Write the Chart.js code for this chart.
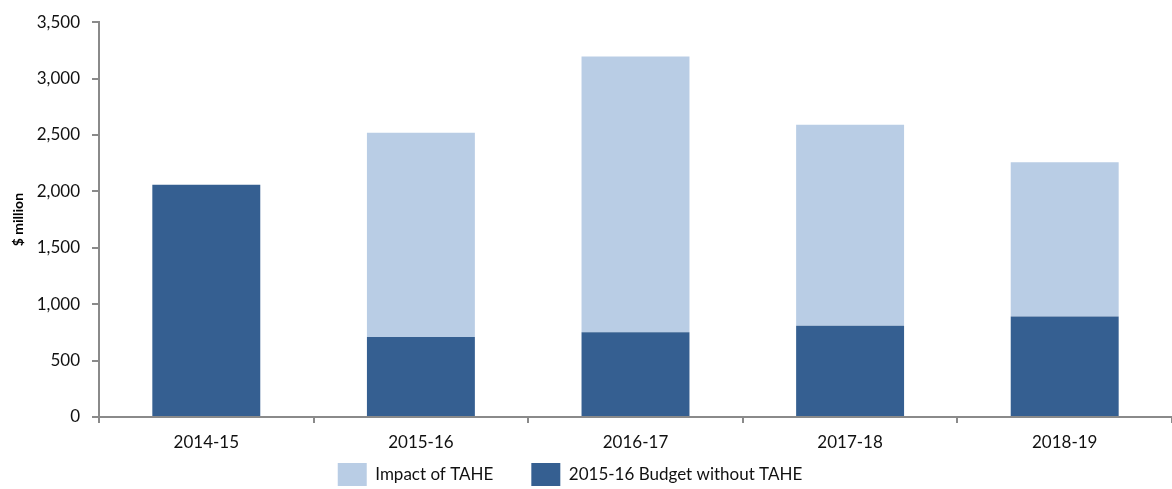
<!DOCTYPE html>
<html>
<head>
<meta charset="utf-8">
<script src="https://cdn.jsdelivr.net/npm/chart.js@4/dist/chart.umd.min.js"></script>
<style>
  html, body { margin: 0; padding: 0; background: #fff; }
  #wrap { width: 1172px; height: 489px; position: relative; }
</style>
</head>
<body>
<div id="wrap"><canvas id="chart" width="1172" height="489"></canvas></div>
<script>
// years on the x axis
const years = ['2014-15', '2015-16', '2016-17', '2017-18', '2018-19'];
// $ million, bottom part of each bar
const budgetWithoutTahe = [2060, 710, 752, 808, 891];
// $ million, stacked on top
const impactOfTahe = [0, 1809, 2445, 1782, 1367];
const yTicks = [0, 500, 1000, 1500, 2000, 2500, 3000, 3500];

const axisGrey = '#8a8a8a';
const legendGap = 38;
Chart.defaults.font.family = 'Lato, "Liberation Sans", sans-serif';
Chart.defaults.color = '#111';

// keep the legend short in the layout, then place it where the reference has it
const legendPlace = {
  id: 'legendPlace',
  beforeLayout(chart) {
    const lg = chart.legend;
    if (lg && !lg._fitWrapped) {
      const fit = lg.fit;
      lg.fit = function () {
        fit.call(this);
        this.height = 36;
      };
      lg._fitWrapped = true;
    }
  },
  afterLayout(chart) {
    const lg = chart.legend;
    lg.top = 463 - legendGap;
    lg.bottom = chart.height;
    lg.height = lg.bottom - lg.top;
    lg.left -= 16;
    lg.right -= 16;
  },
};

const ctx = document.getElementById('chart').getContext('2d');
new Chart(ctx, {
  type: 'bar',
  data: {
    labels: years,
    datasets: [
      {
        label: '2015-16 Budget without TAHE',
        data: budgetWithoutTahe,
        backgroundColor: '#355f91',
        categoryPercentage: 1,
        barPercentage: 0.503,
      },
      {
        label: 'Impact of TAHE',
        data: impactOfTahe,
        backgroundColor: '#b9cde5',
        categoryPercentage: 1,
        barPercentage: 0.503,
      },
    ],
  },
  plugins: [legendPlace],
  options: {
    responsive: false,
    animation: false,
    layout: { padding: { top: 12, right: 0, bottom: 0, left: 0 } },
    plugins: {
      tooltip: { enabled: false },
      legend: {
        position: 'bottom',
        reverse: true,
        labels: {
          boxWidth: 29,
          boxHeight: 23,
          padding: legendGap,
          font: { size: 17 },
          color: '#111',
        },
      },
    },
    scales: {
      x: {
        stacked: true,
        grid: {
          offset: true,
          drawOnChartArea: false,
          tickLength: 6,
          color: axisGrey,
          lineWidth: 2,
        },
        border: { color: axisGrey, width: 2 },
        ticks: { font: { size: 17 }, padding: 9 },
        afterFit: s => { s.height = 36; },
      },
      y: {
        stacked: true,
        min: 0,
        max: 3500,
        afterBuildTicks: s => { s.ticks = yTicks.map(v => ({ value: v })); },
        grid: {
          drawOnChartArea: false,
          tickLength: 7,
          color: axisGrey,
          lineWidth: 2,
        },
        border: { color: axisGrey, width: 2 },
        ticks: {
          font: { size: 17 },
          padding: 12,
          callback: v => v.toLocaleString('en-US'),
        },
        title: {
          display: true,
          text: '$ million',
          font: { size: 14, weight: 'bold' },
          padding: { top: 10, bottom: 0 },
          color: '#000',
        },
        afterFit: s => { s.width = 99; },
      },
    },
  },
});
</script>
</body>
</html>
